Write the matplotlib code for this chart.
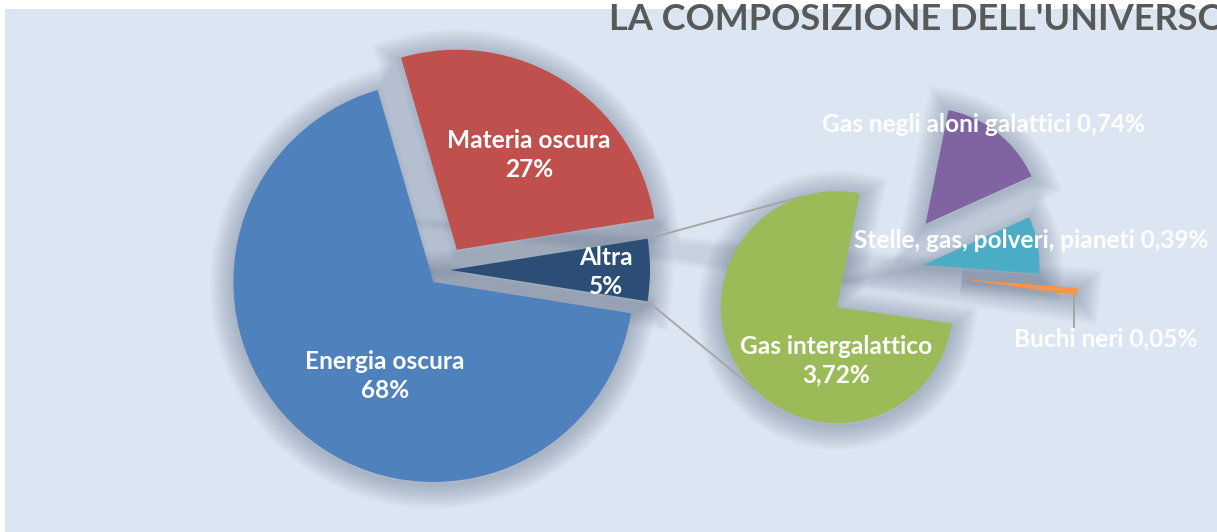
import numpy as np
import matplotlib.pyplot as plt
from matplotlib.patches import Rectangle

plt.rcParams['font.family'] = ['Lato', 'DejaVu Sans']

# main pie: universe composition (%)
main_labels = ['Altra', 'Materia oscura', 'Energia oscura']
main_values = [5, 27, 68]
main_text = ['5%', '27%', '68%']
main_colors = ['#2c4d75', '#c0504d', '#4f81bd']
main_explode = [0.03, 0.12, 0.08]

# secondary pie: breakdown of "Altra" (%)
sub_labels = ['Gas intergalattico', 'Buchi neri',
              'Stelle, gas, polveri, pianeti', 'Gas negli aloni galattici']
sub_values = [3.72, 0.05, 0.39, 0.74]
sub_text = ['3,72%', '0,05%', '0,39%', '0,74%']
sub_colors = ['#9bbb59', '#f79646', '#4bacc6', '#8064a2']
sub_explode = [0.54, 0.64, 0.31, 0.52]

W, H = 1217, 532
BG = '#dce6f2'
SHADOW = '#3a4864'

fig = plt.figure(figsize=(W / 100, H / 100), dpi=100, facecolor='white')
ax = fig.add_axes([0, 0, 1, 1])

ax.add_patch(Rectangle((5, 0), W, H - 9, facecolor=BG, edgecolor='none', zorder=0))

main_c, main_r, main_start = (444, 262), 200, -9
sub_c, sub_r, sub_start = (888, 261), 116, 78.6

# pie() offsets wedges in data units, so scale the explode fractions by the radius
main_off = [e * main_r for e in main_explode]
sub_off = [e * sub_r for e in sub_explode]


def shadow(values, center, radius, offsets, start):
    # soft drop shadow built from stacked translucent pies
    for lw in np.linspace(34, 2, 14):
        ws, _ = ax.pie(values, center=(center[0], center[1] - 3), radius=radius,
                       explode=offsets, startangle=start, counterclock=True,
                       wedgeprops=dict(facecolor='none', edgecolor=SHADOW,
                                       linewidth=lw, alpha=0.022))
        for w in ws:
            w.set_zorder(1)


shadow(main_values, main_c, main_r, main_off, main_start)
shadow(sub_values, sub_c, sub_r, sub_off, sub_start)

main_w, _ = ax.pie(main_values, center=main_c, radius=main_r, explode=main_off,
                   startangle=main_start, counterclock=True, colors=main_colors,
                   wedgeprops=dict(linewidth=0))
sub_w, _ = ax.pie(sub_values, center=sub_c, radius=sub_r, explode=sub_off,
                  startangle=sub_start, counterclock=True, colors=sub_colors,
                  wedgeprops=dict(linewidth=0))
for w in main_w + sub_w:
    w.set_zorder(3)


def point(wedge, angle, frac=1.0):
    a = np.deg2rad(angle)
    cx, cy = wedge.center
    return cx + frac * wedge.r * np.cos(a), cy + frac * wedge.r * np.sin(a)


# connector lines between "Altra" and the secondary pie
altra, gas = main_w[0], sub_w[0]
for a_main, a_sub in [(altra.theta2, 107), (altra.theta1, 225)]:
    x0, y0 = point(altra, a_main)
    x1, y1 = point(gas, a_sub)
    ax.plot([x0, x1], [y0, y1], color='#a6a6a6', lw=1.4, zorder=2)

# leader line for "Buchi neri"
bx, by = point(sub_w[1], sub_w[1].theta1)
ax.plot([bx - 3, bx - 3], [by, H - 327], color='#a6a6a6', lw=1.4, zorder=2)

lab = dict(color='white', fontsize=17.6, fontweight='bold', ha='center', va='center',
           zorder=5, linespacing=1.3)

# labels inside main pie
main_pos = [(606, 272), (529, 155), (385, 376)]
for (x, y), name, pct in zip(main_pos, main_labels, main_text):
    ax.text(x, H - y, f'{name}\n{pct}', **lab)

# labels for the secondary pie
ax.text(836, H - 361, f'{sub_labels[0]}\n{sub_text[0]}', **lab)
sub_pos = [None, (1106, 339), (1031, 240), (983, 125)]
for i in (1, 2, 3):
    x, y = sub_pos[i]
    ax.text(x, H - y, f'{sub_labels[i]} {sub_text[i]}', **lab)

ax.text(609, H - 20, "LA COMPOSIZIONE DELL'UNIVERSO", color='#595959',
        fontsize=26, fontweight='bold', ha='left', va='center', zorder=6)

ax.set_xlim(0, W)
ax.set_ylim(0, H)
ax.set_aspect('auto')
ax.axis('off')

fig.savefig('out.png', dpi=100, facecolor='white')
